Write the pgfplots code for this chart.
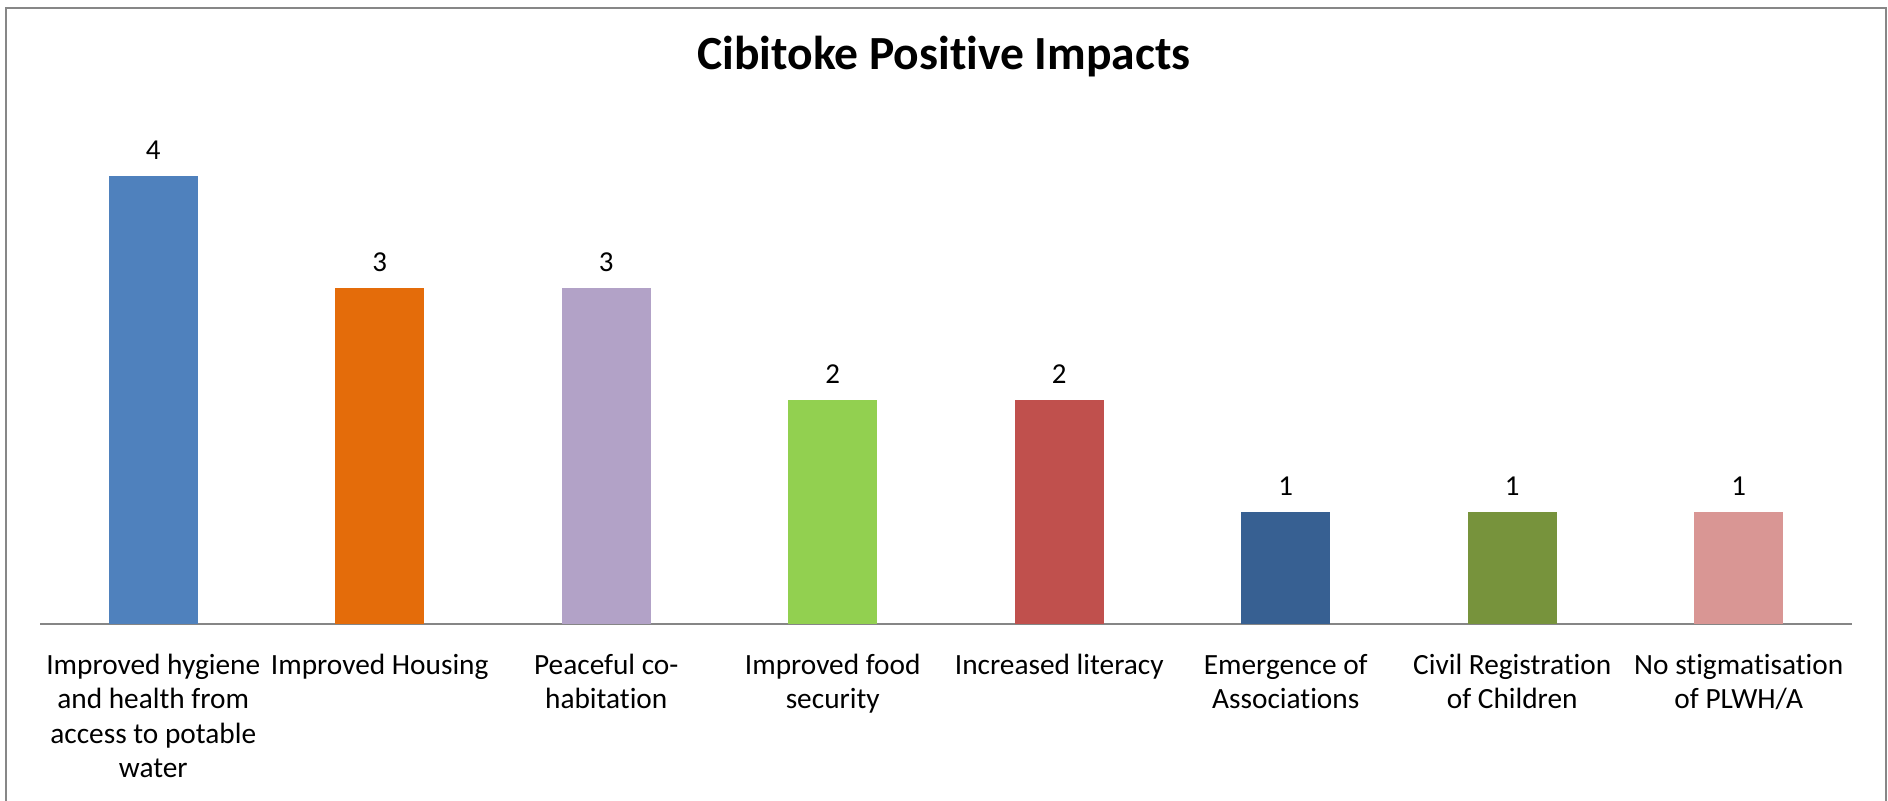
\documentclass[border=0pt]{standalone}
\usepackage{fontspec}
\setmainfont{Carlito}[Ligatures=NoCommon]
\usepackage{pgfplots}
\pgfplotsset{compat=1.18}

\definecolor{barA}{HTML}{4F81BD}
\definecolor{barB}{HTML}{E46C0A}
\definecolor{barC}{HTML}{B2A2C7}
\definecolor{barD}{HTML}{92D050}
\definecolor{barE}{HTML}{C0504D}
\definecolor{barF}{HTML}{376092}
\definecolor{barG}{HTML}{77933C}
\definecolor{barH}{HTML}{D99694}
\definecolor{axisgray}{HTML}{868686}
\definecolor{framegray}{HTML}{878787}

\begin{document}
\begin{tikzpicture}
\begin{axis}[
  at={(18pt,-280.8pt)}, anchor=south west,
  scale only axis, width=815.4pt, height=226.8pt,
  xmin=-0.5, xmax=7.5, ymin=0, ymax=4.5,
  axis x line=bottom, axis y line=none,
  x axis line style={-, draw=axisgray, line width=0.9pt},
  xtick={0,1,2,3,4,5,6,7},
  xticklabels={
    {Improved hygiene\\and health from\\access to potable\\water},
    {Improved Housing},
    {Peaceful co-\\habitation},
    {Improved food\\security},
    {Increased literacy},
    {Emergence of\\Associations},
    {Civil Registration\\of Children},
    {No stigmatisation\\of PLWH/A}},
  major tick length=0pt,
  xticklabel style={align=center, font=\fontsize{13.2}{15.5}\selectfont, anchor=north, yshift=-10pt},
  ybar, bar width=40pt, bar shift=0pt,
  nodes near coords,
  nodes near coords style={font=\fontsize{13}{15}\selectfont, text=black, yshift=4pt},
  /pgf/number format/assume math mode=true,
  every axis plot/.append style={draw=none},
  clip=false,
]
\addplot[fill=barA] coordinates {(0,4)};
\addplot[fill=barB] coordinates {(1,3)};
\addplot[fill=barC] coordinates {(2,3)};
\addplot[fill=barD] coordinates {(3,2)};
\addplot[fill=barE] coordinates {(4,2)};
\addplot[fill=barF] coordinates {(5,1)};
\addplot[fill=barG] coordinates {(6,1)};
\addplot[fill=barH] coordinates {(7,1)};
\end{axis}
\node[font=\fontsize{21.4}{26}\selectfont\bfseries] at (424.8pt,-25.65pt) {Cibitoke Positive Impacts};
\draw[framegray, line width=1.3pt] (2.7pt,-3.6pt) rectangle (848.7pt,-380pt);
\pgfresetboundingbox
\path[use as bounding box] (0,0) rectangle (849.6pt,-360.45pt);
\end{tikzpicture}
\end{document}
